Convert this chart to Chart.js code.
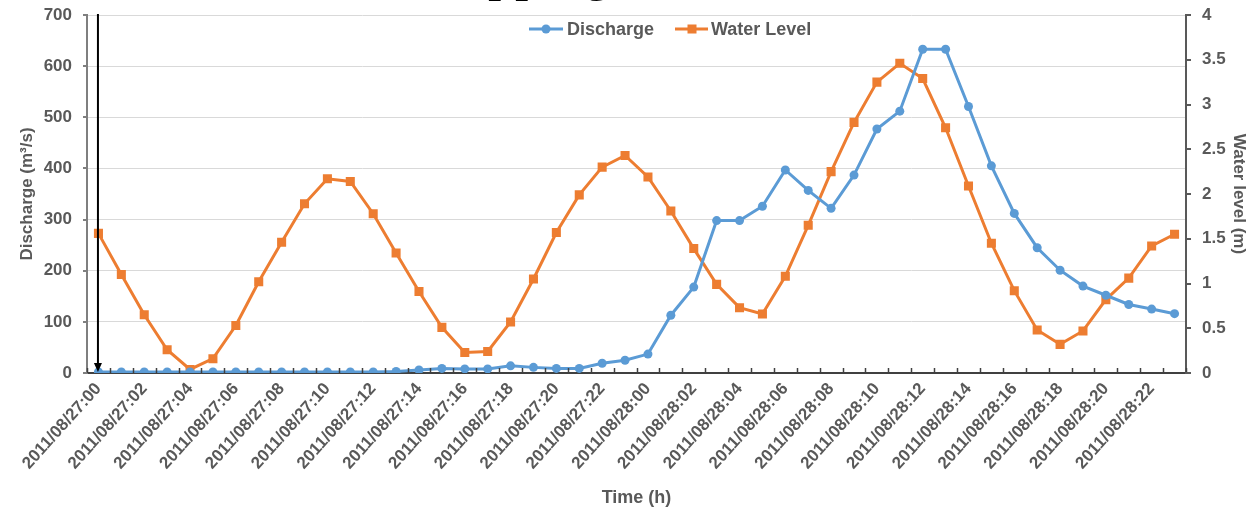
<!DOCTYPE html>
<html>
<head>
<meta charset="utf-8">
<script src="https://cdn.jsdelivr.net/npm/chart.js@4.4.0/dist/chart.umd.min.js"></script>
<style>
  html, body { margin: 0; padding: 0; background: #ffffff; }
  canvas { display: block; }
</style>
</head>
<body>
<canvas id="chart" width="1250" height="510"></canvas>
<script>
// Hourly time stamps, 27–28 August 2011
const timeLabels = [
  '2011/08/27:00','2011/08/27:01','2011/08/27:02','2011/08/27:03','2011/08/27:04','2011/08/27:05',
  '2011/08/27:06','2011/08/27:07','2011/08/27:08','2011/08/27:09','2011/08/27:10','2011/08/27:11',
  '2011/08/27:12','2011/08/27:13','2011/08/27:14','2011/08/27:15','2011/08/27:16','2011/08/27:17',
  '2011/08/27:18','2011/08/27:19','2011/08/27:20','2011/08/27:21','2011/08/27:22','2011/08/27:23',
  '2011/08/28:00','2011/08/28:01','2011/08/28:02','2011/08/28:03','2011/08/28:04','2011/08/28:05',
  '2011/08/28:06','2011/08/28:07','2011/08/28:08','2011/08/28:09','2011/08/28:10','2011/08/28:11',
  '2011/08/28:12','2011/08/28:13','2011/08/28:14','2011/08/28:15','2011/08/28:16','2011/08/28:17',
  '2011/08/28:18','2011/08/28:19','2011/08/28:20','2011/08/28:21','2011/08/28:22','2011/08/28:23'
];

// Discharge (m³/s)
const discharge = [
  2, 2, 2, 2, 2, 2, 2, 2, 2, 2, 2, 2,
  2, 3, 6, 9, 8, 8, 14, 11, 9, 9, 19, 25,
  37, 113, 168, 298, 298, 326, 397, 357, 322, 387, 477, 512,
  633, 633, 521, 405, 312, 245, 201, 170, 152, 134, 125, 116
];

// Water level (m)
const waterLevel = [
  1.56, 1.10, 0.65, 0.26, 0.04, 0.16, 0.53, 1.02, 1.46, 1.89, 2.17, 2.14,
  1.78, 1.34, 0.91, 0.51, 0.23, 0.24, 0.57, 1.05, 1.57, 1.99, 2.30, 2.43,
  2.19, 1.81, 1.39, 0.99, 0.73, 0.66, 1.08, 1.65, 2.25, 2.80, 3.25, 3.46,
  3.29, 2.74, 2.09, 1.45, 0.92, 0.48, 0.32, 0.47, 0.82, 1.06, 1.42, 1.55
];

const seriesNames = ['Discharge', 'Water Level'];
const BLUE = '#5B9BD5';
const ORANGE = '#ED7D31';
const TEXT = '#595959';
const FONT = '"Liberation Sans", Arial, sans-serif';

// Axis tick marks, the start marker arrow, the in-plot legend and the heading fragment
const decorations = {
  id: 'decorations',
  afterDraw(chart) {
    const ctx = chart.ctx;
    const { left, right, top, bottom } = chart.chartArea;
    const xs = chart.scales.x;
    const yl = chart.scales.y;
    const yr = chart.scales.y1;
    const n = timeLabels.length;
    const w = (right - left) / n;
    ctx.save();

    // x tick marks between categories, pointing into the plot
    ctx.strokeStyle = '#404040';
    ctx.lineWidth = 1.5;
    for (let i = 0; i <= n; i++) {
      const px = Math.round(left + i * w) + 0.5;
      ctx.beginPath();
      ctx.moveTo(px, bottom);
      ctx.lineTo(px, bottom - 5);
      ctx.stroke();
    }

    // outward tick marks on both value axes
    ctx.lineWidth = 2;
    ctx.strokeStyle = '#7f7f7f';
    yl.ticks.forEach((t) => {
      const py = Math.round(yl.getPixelForValue(t.value));
      ctx.beginPath(); ctx.moveTo(left - 4, py); ctx.lineTo(left, py); ctx.stroke();
    });
    ctx.strokeStyle = '#595959';
    yr.ticks.forEach((t) => {
      const py = Math.round(yr.getPixelForValue(t.value));
      ctx.beginPath(); ctx.moveTo(right, py); ctx.lineTo(right + 5, py); ctx.stroke();
    });

    // downward arrow at the first time step
    const ax = xs.getPixelForValue(0) - 0.5;
    ctx.strokeStyle = '#000000';
    ctx.fillStyle = '#000000';
    ctx.lineWidth = 2;
    ctx.beginPath();
    ctx.moveTo(ax, top - 1);
    ctx.lineTo(ax, bottom - 8);
    ctx.stroke();
    ctx.beginPath();
    ctx.moveTo(ax - 4, bottom - 10);
    ctx.lineTo(ax + 4, bottom - 10);
    ctx.lineTo(ax, bottom - 1);
    ctx.closePath();
    ctx.fill();

    // legend
    const ly = 29;
    ctx.font = 'bold 18px ' + FONT;
    ctx.textBaseline = 'middle';
    ctx.textAlign = 'left';
    ctx.lineWidth = 3;
    // Discharge
    ctx.strokeStyle = BLUE; ctx.fillStyle = BLUE;
    ctx.beginPath(); ctx.moveTo(529, ly); ctx.lineTo(563, ly); ctx.stroke();
    ctx.beginPath(); ctx.arc(546, ly, 4.5, 0, Math.PI * 2); ctx.fill();
    ctx.fillStyle = TEXT;
    ctx.fillText(seriesNames[0], 567, ly + 1);
    // Water Level
    ctx.strokeStyle = ORANGE; ctx.fillStyle = ORANGE;
    ctx.beginPath(); ctx.moveTo(675, ly); ctx.lineTo(708, ly); ctx.stroke();
    ctx.fillRect(687.5, ly - 4.5, 9, 9);
    ctx.fillStyle = TEXT;
    ctx.fillText(seriesNames[1], 711, ly + 1);

    // heading text above the figure, mostly cut off by the top edge
    ctx.fillStyle = '#000000';
    ctx.font = '54px "Liberation Serif", "Times New Roman", serif';
    ctx.textBaseline = 'alphabetic';
    ctx.fillText('pping', 488, -11);

    ctx.restore();
  }
};

new Chart(document.getElementById('chart'), {
  type: 'line',
  data: {
    labels: timeLabels,
    datasets: [
      {
        label: seriesNames[0],
        data: discharge,
        yAxisID: 'y',
        borderColor: BLUE,
        backgroundColor: BLUE,
        borderWidth: 3,
        pointStyle: 'circle',
        pointRadius: 4.5,
        pointBorderWidth: 0,
        pointBackgroundColor: BLUE,
        tension: 0
      },
      {
        label: seriesNames[1],
        data: waterLevel,
        yAxisID: 'y1',
        borderColor: ORANGE,
        backgroundColor: ORANGE,
        borderWidth: 3,
        pointStyle: 'rect',
        pointRadius: 6.4,
        pointBorderWidth: 0,
        pointBackgroundColor: ORANGE,
        tension: 0
      }
    ]
  },
  options: {
    responsive: false,
    animation: false,
    devicePixelRatio: 1,
    layout: { padding: { top: 15, left: 0, right: 0, bottom: 0 } },
    plugins: {
      legend: { display: false },
      tooltip: { enabled: false },
      title: { display: false }
    },
    scales: {
      x: {
        type: 'category',
        offset: true,
        grid: { display: false, drawTicks: false, offset: true },
        border: { display: true, color: '#404040', width: 2 },
        ticks: {
          autoSkip: false,
          minRotation: 48,
          maxRotation: 48,
          padding: 6,
          color: TEXT,
          font: { family: FONT, size: 17, weight: 'bold' },
          callback: function (value, index) {
            return index % 2 === 0 ? this.getLabelForValue(value) : '';
          }
        },
        title: {
          display: true,
          text: 'Time (h)',
          color: TEXT,
          font: { family: FONT, size: 18, weight: 'bold' },
          padding: { top: 0, bottom: 1 }
        },
        afterFit(scale) { scale.height = 137; }
      },
      y: {
        position: 'left',
        min: 0,
        max: 700,
        ticks: {
          stepSize: 100,
          padding: 0,
          color: TEXT,
          font: { family: FONT, size: 17, weight: 'bold' }
        },
        grid: {
          color: '#d9d9d9',
          lineWidth: 1,
          drawTicks: true,
          tickLength: 15,
          tickColor: 'rgba(0,0,0,0)'
        },
        border: { display: true, color: '#7f7f7f', width: 2 },
        title: {
          display: true,
          text: 'Discharge (m³/s)',
          color: TEXT,
          font: { family: FONT, size: 17, weight: 'bold', lineHeight: 1.2 },
          padding: { top: 17, bottom: 0 }
        },
        afterFit(scale) { scale.width = 87; }
      },
      y1: {
        position: 'right',
        min: 0,
        max: 4,
        ticks: {
          stepSize: 0.5,
          padding: 0,
          color: TEXT,
          font: { family: FONT, size: 17, weight: 'bold' },
          callback: (value) => String(value)
        },
        grid: {
          drawOnChartArea: false,
          drawTicks: true,
          tickLength: 16,
          tickColor: 'rgba(0,0,0,0)'
        },
        border: { display: true, color: '#595959', width: 2 },
        title: {
          display: true,
          text: 'Water level (m)',
          color: TEXT,
          font: { family: FONT, size: 17, weight: 'bold', lineHeight: 1.2 },
          padding: { top: 1, bottom: 0 }
        },
        afterFit(scale) { scale.width = 64; }
      }
    }
  },
  plugins: [decorations]
});
</script>
</body>
</html>
